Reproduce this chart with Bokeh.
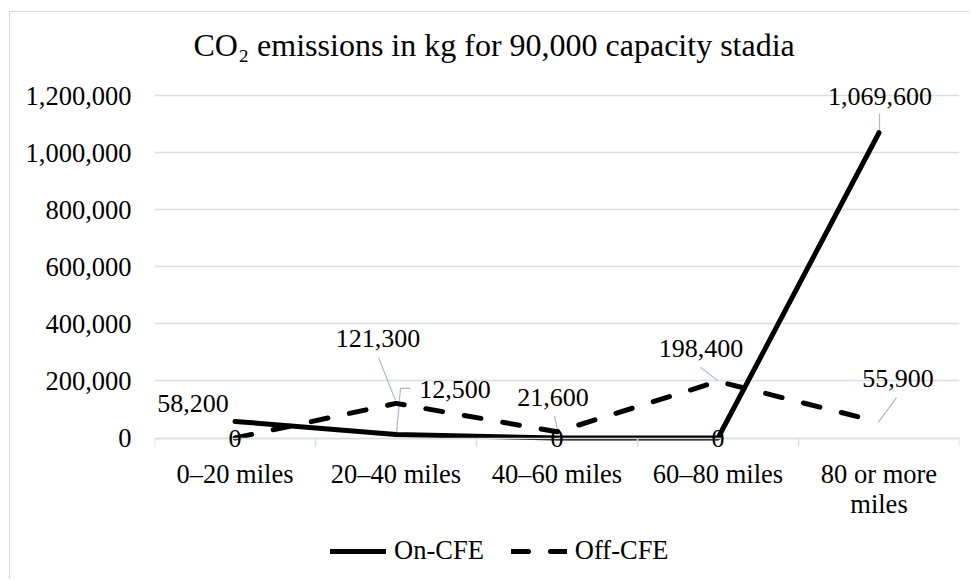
from bokeh.plotting import figure
from bokeh.models import (ColumnDataSource, LabelSet, FixedTicker, NumeralTickFormatter,
                          Legend, LegendItem, Range1d, InlineStyleSheet)
from bokeh.embed import file_html
from bokeh.resources import INLINE

# ---- data ----
categories = ["0–20 miles", "20–40 miles", "40–60 miles", "60–80 miles", "80 or more\nmiles"]
on_cfe = [58200, 12500, 0, 0, 1069600]
off_cfe = [0, 121300, 21600, 198400, 55900]
y_ticks = [0, 200000, 400000, 600000, 800000, 1000000, 1200000]
title_text = "CO₂ emissions in kg for 90,000 capacity stadia"

# ---- style (label placement offsets in px, up = positive) ----
on_lab_off = [(-42, 18), (59, 45), (0, 0), (0, 0), (1, 36)]
off_lab_off = [(0, 0), (-18, 65), (-4, 34), (-17, 33), (19, 44)]
on_leaders = {1: [(0.5, 1), (4.5, 46), (14.5, 46)], 4: [(0.5, 19), (0.5, 2)]}
off_leaders = {1: [(-17.5, 46), (-0.5, 3)], 2: [(-2.5, 16), (0.5, 1.5)],
               3: [(-17.5, 14), (-0.5, 1)], 4: [(17.5, 24.5), (-0.5, 0)]}

FONT = "Liberation Serif"
GRID = "#D9DEE5"
LEADER = "#A9B8C9"

W, H = 969, 579
BL, BR, BT, BB = 154, 10, 70, 0
frame_w = W - BL - BR
frame_h = H - BT - BB
PAD_TOP = 25                       # px of empty frame above the top tick
ZERO_Y = 437.5                     # page y of the zero line
PAD_BOT = H - ZERO_Y               # px of frame below zero (room for x labels + legend)
scale_px = frame_h - PAD_TOP - PAD_BOT

x = [i + 0.5 for i in range(len(categories))]
px_x = frame_w / len(categories)
ymax = y_ticks[-1]
val_per_px = ymax / scale_px

p = figure(width=W, height=H, output_backend="svg", toolbar_location=None,
           x_range=Range1d(0, len(categories)),
           y_range=Range1d(-PAD_BOT * val_per_px, ymax + PAD_TOP * val_per_px),
           min_border_left=BL, min_border_right=BR, min_border_top=BT, min_border_bottom=BB,
           title=title_text)
p.stylesheets = [InlineStyleSheet(css=(
    ":host::after { content: ''; position: absolute; left: 9px; top: 11px; right: 0; bottom: 0; "
    "border-top: 1px solid #D9D9D9; border-left: 1px solid #D9D9D9; pointer-events: none; }"))]
p.outline_line_color = None
p.background_fill_color = "white"
p.border_fill_color = "white"

p.title.text_font = FONT
p.title.text_font_size = "32px"
p.title.text_font_style = "normal"
p.title.text_color = "black"
p.title.align = "left"
p.title.offset = 39
p.title.standoff = 16

# grid & axes
p.xgrid.visible = False
p.ygrid.ticker = FixedTicker(ticks=y_ticks)
p.ygrid.grid_line_color = GRID
p.ygrid.grid_line_width = 1.5

p.yaxis.ticker = FixedTicker(ticks=y_ticks)
p.yaxis.formatter = NumeralTickFormatter(format="0,0")
p.yaxis.axis_line_color = None
p.yaxis.major_tick_line_color = None
p.yaxis.minor_tick_line_color = None
p.yaxis.major_tick_out = 0
p.yaxis.major_tick_in = 0
p.yaxis.major_label_standoff = 23
p.yaxis.major_label_text_font = FONT
p.yaxis.major_label_text_font_size = "26.5px"
p.yaxis.major_label_text_color = "black"

p.xaxis.fixed_location = 0
p.xaxis.ticker = FixedTicker(ticks=x, minor_ticks=list(range(len(categories) + 1)))
p.xaxis.major_label_overrides = {xi: c for xi, c in zip(x, categories)}
p.xaxis.axis_line_color = GRID
p.xaxis.axis_line_width = 1.5
p.xaxis.major_tick_in = 0
p.xaxis.major_tick_out = 0
p.xaxis.minor_tick_in = 0
p.xaxis.minor_tick_out = 8
p.xaxis.minor_tick_line_color = GRID
p.xaxis.minor_tick_line_width = 1.5
p.xaxis.major_label_standoff = 13
p.xaxis.major_label_text_font = FONT
p.xaxis.major_label_text_font_size = "26.5px"
p.xaxis.major_label_text_line_height = 1.0
p.xaxis.major_label_text_color = "black"

# leader lines
lxs, lys = [], []
for series, leaders in ((on_cfe, on_leaders), (off_cfe, off_leaders)):
    for i, pts in leaders.items():
        lxs.append([x[i] + dx / px_x for dx, dy in pts])
        lys.append([series[i] + dy * val_per_px for dx, dy in pts])
p.multi_line(lxs, lys, line_color=LEADER, line_width=1.2)

# series lines
r_on = p.line(x, on_cfe, line_color="black", line_width=5, line_join="round", line_cap="round")
r_off = p.line(x, off_cfe, line_color="black", line_width=5, line_dash="17 22",
               line_join="round", line_cap="round")

# data labels
lab_src = ColumnDataSource(dict(
    x=x + x,
    y=on_cfe + off_cfe,
    text=[f"{v:,}" for v in on_cfe + off_cfe],
    xo=[o[0] for o in on_lab_off + off_lab_off],
    yo=[o[1] for o in on_lab_off + off_lab_off],
))
labels = LabelSet(x="x", y="y", text="text", x_offset="xo", y_offset="yo", source=lab_src,
                  text_font=FONT, text_font_size="26px", text_color="black",
                  text_align="center", text_baseline="middle")
p.add_layout(labels)

legend = Legend(items=[LegendItem(label="On-CFE", renderers=[r_on]),
                       LegendItem(label="Off-CFE", renderers=[r_off])],
                orientation="horizontal", location=(176, 13),
                glyph_width=56, glyph_height=20, label_standoff=8, spacing=27,
                padding=0, margin=0, border_line_color=None, background_fill_alpha=0,
                label_text_font=FONT, label_text_font_size="26.5px", label_text_color="black")
p.add_layout(legend)

open("out.html", "w").write(file_html(p, INLINE))
